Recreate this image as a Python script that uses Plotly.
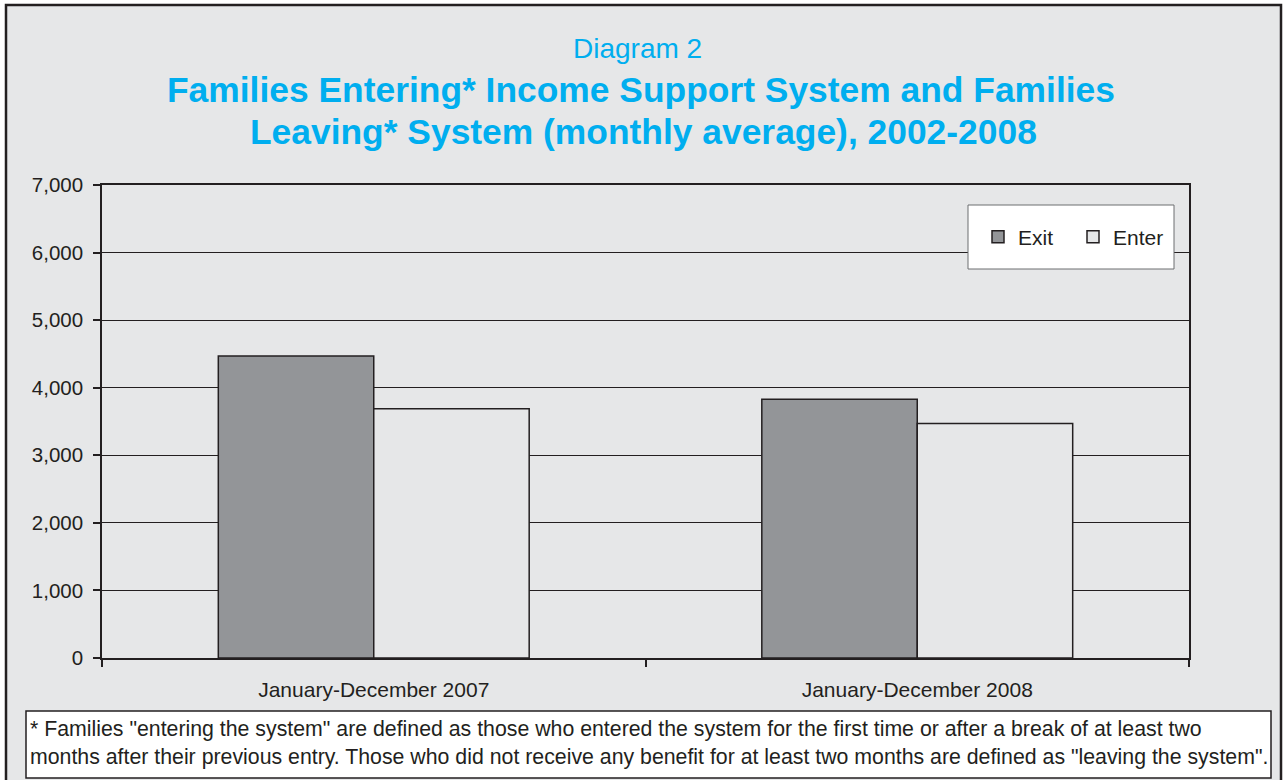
import plotly.graph_objects as go

# Monthly averages of families leaving / entering the income support system
categories = ["January-December 2007", "January-December 2008"]
exit_values = [4470, 3830]
enter_values = [3690, 3470]
y_ticks = [0, 1000, 2000, 3000, 4000, 5000, 6000, 7000]

W, H = 1284, 780
ML, MR, MT, MB = 102, 95, 185, 122
PW, PH = W - ML - MR, H - MT - MB

FONT = "Liberation Sans, Arial, sans-serif"
DARK = "#231f20"
BG = "#e6e7e8"
CYAN = "#00aeef"


def fx(px):
    return (px - ML) / PW


def fy(py):
    return (H - MB - py) / PH


fig = go.Figure()
fig.add_trace(go.Bar(
    name="Exit", x=categories, y=exit_values,
    marker=dict(color="#939598", line=dict(color=DARK, width=1.5)),
))
fig.add_trace(go.Bar(
    name="Enter", x=categories, y=enter_values,
    marker=dict(color=BG, line=dict(color=DARK, width=1.5)),
))

shapes = [
    # outer frame of the figure
    dict(type="rect", xref="paper", yref="paper", layer="below",
         x0=fx(6), x1=fx(1281), y0=fy(5), y1=fy(782),
         fillcolor=BG, line=dict(color=DARK, width=2.5)),
    # legend frame
    dict(type="rect", xref="paper", yref="paper", layer="above",
         x0=fx(968), x1=fx(1174), y0=fy(205), y1=fy(269),
         fillcolor="white", line=dict(color="#6d6e71", width=1)),
    # footnote box
    dict(type="rect", xref="paper", yref="paper", layer="above",
         x0=fx(26), x1=fx(1271), y0=fy(711), y1=fy(778),
         fillcolor="white", line=dict(color=DARK, width=1.5)),
]

title_lines = [
    "Families Entering* Income Support System and Families",
    "Leaving* System (monthly average), 2002-2008",
]

annotations = [
    dict(text="Diagram 2", xref="paper", yref="paper", x=fx(637), y=fy(48),
         xanchor="center", yanchor="middle", showarrow=False,
         font=dict(family=FONT, size=28, color=CYAN)),
    dict(text="<b>" + title_lines[0] + "</b>",
         xref="paper", yref="paper", x=fx(641), y=fy(90),
         xanchor="center", yanchor="middle", showarrow=False,
         font=dict(family=FONT, size=35.4, color=CYAN)),
    dict(text="<b>" + title_lines[1] + "</b>",
         xref="paper", yref="paper", x=fx(643), y=fy(132),
         xanchor="center", yanchor="middle", showarrow=False,
         font=dict(family=FONT, size=35.4, color=CYAN)),
    dict(text="* Families \"entering the system\" are defined as those who entered the system "
              "for the first time or after a break of at least two<br>"
              "months after their previous entry. Those who did not receive any benefit "
              "for at least two months are defined as \"leaving the system\".",
         xref="paper", yref="paper", x=fx(28), y=fy(743),
         xanchor="left", yanchor="middle", showarrow=False, align="left",
         font=dict(family=FONT, size=21.3, color=DARK)),
]

fig.update_layout(
    width=W, height=H,
    margin=dict(l=ML, r=MR, t=MT, b=MB, pad=0),
    paper_bgcolor="white",
    plot_bgcolor="white",
    font=dict(family=FONT, size=20, color=DARK),
    barmode="group",
    bargap=0.428,
    bargroupgap=0,
    showlegend=True,
    legend=dict(orientation="h", x=fx(1073), y=fy(237),
                xanchor="center", yanchor="middle",
                bgcolor="rgba(0,0,0,0)", borderwidth=0,
                font=dict(family=FONT, size=21, color=DARK),
                itemwidth=30, entrywidth=50, entrywidthmode="pixels"),
    shapes=shapes,
    annotations=annotations,
)

fig.update_xaxes(
    showline=True, linecolor=DARK, linewidth=1.5, mirror=True,
    ticks="outside", tickson="boundaries", ticklen=7, tickcolor=DARK, tickwidth=1.5,
    tickfont=dict(family=FONT, size=21, color=DARK),
    ticklabelstandoff=12,
    showgrid=False,
)
fig.update_yaxes(
    range=[0, 7000], tickvals=y_ticks, tickformat=",",
    showline=True, linecolor=DARK, linewidth=1.5, mirror=True,
    ticks="outside", ticklen=7, tickcolor=DARK, tickwidth=1.5,
    tickfont=dict(family=FONT, size=20.5, color=DARK),
    ticklabelstandoff=6,
    showgrid=True, gridcolor=DARK, gridwidth=1.2,
    zeroline=False,
)

fig.write_html("out.html")
